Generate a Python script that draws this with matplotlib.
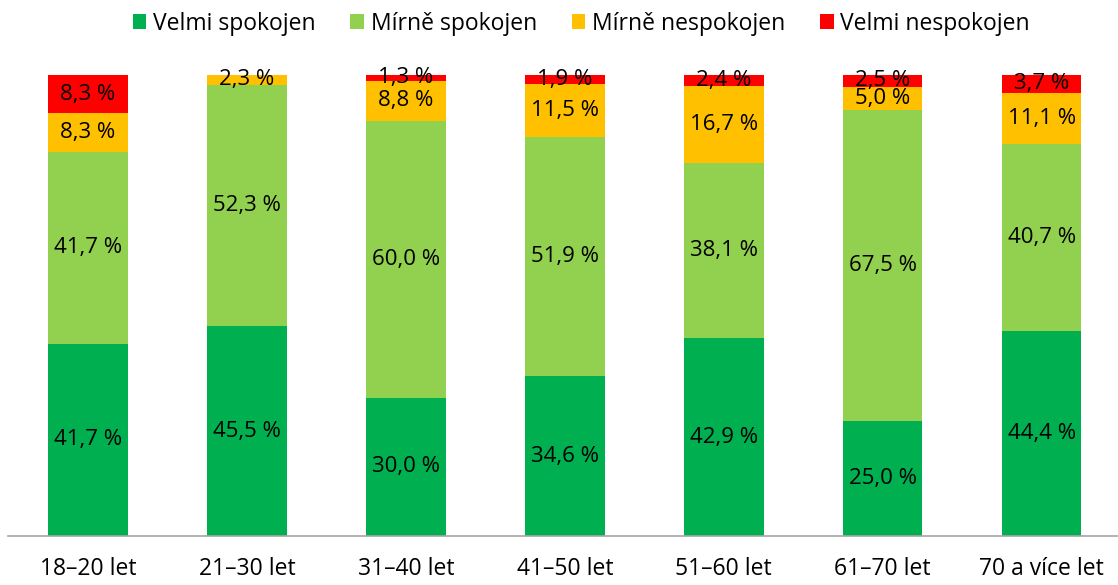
import matplotlib.pyplot as plt
import numpy as np

plt.rcParams['font.family'] = ['Open Sans', 'DejaVu Sans']

categories = ['18–20 let', '21–30 let', '31–40 let', '41–50 let', '51–60 let', '61–70 let', '70 a více let']
series_names = ['Velmi spokojen', 'Mírně spokojen', 'Mírně nespokojen', 'Velmi nespokojen']
velmi_spokojen = [41.7, 45.5, 30.0, 34.6, 42.9, 25.0, 44.4]
mirne_spokojen = [41.7, 52.3, 60.0, 51.9, 38.1, 67.5, 40.7]
mirne_nespokojen = [8.3, 2.3, 8.8, 11.5, 16.7, 5.0, 11.1]
velmi_nespokojen = [8.3, 0.0, 1.3, 1.9, 2.4, 2.5, 3.7]
colors = ['#00B050', '#92D050', '#FFC000', '#FF0000']

fig = plt.figure(figsize=(11.18, 5.85), dpi=100)
ax = fig.add_axes([0.0076, 0.0838, 0.9924, 0.788])

x = np.arange(len(categories))
bottom = np.zeros(len(categories))
for name, vals, col in zip(series_names, [velmi_spokojen, mirne_spokojen, mirne_nespokojen, velmi_nespokojen], colors):
    vals = np.array(vals)
    ax.bar(x, vals, 0.5, bottom=bottom, color=col, label=name)
    for xi, b, v in zip(x, bottom, vals):
        if v > 0:
            ax.text(xi, b + v / 2, f'{v:.1f} %'.replace('.', ','), ha='center', va='center',
                    fontsize=16, color='black')
    bottom += vals

ax.set_xlim(-0.5, 6.48)
ax.set_ylim(0, 100)
ax.set_yticks([])
ax.set_xticks(x)
ax.set_xticklabels(categories, fontsize=16.5)
ax.tick_params(axis='x', length=0, pad=15)
for s in ['top', 'right', 'left']:
    ax.spines[s].set_visible(False)
ax.spines['bottom'].set_color('#A6A6A6')
ax.spines['bottom'].set_linewidth(1.2)

fig.legend(loc='upper center', bbox_to_anchor=(0.52, 1.015), ncol=4, frameon=False, fontsize=16.5,
           handlelength=0.6, handleheight=0.6, handletextpad=0.3, columnspacing=1.5)

fig.savefig('out.png', dpi=100)
